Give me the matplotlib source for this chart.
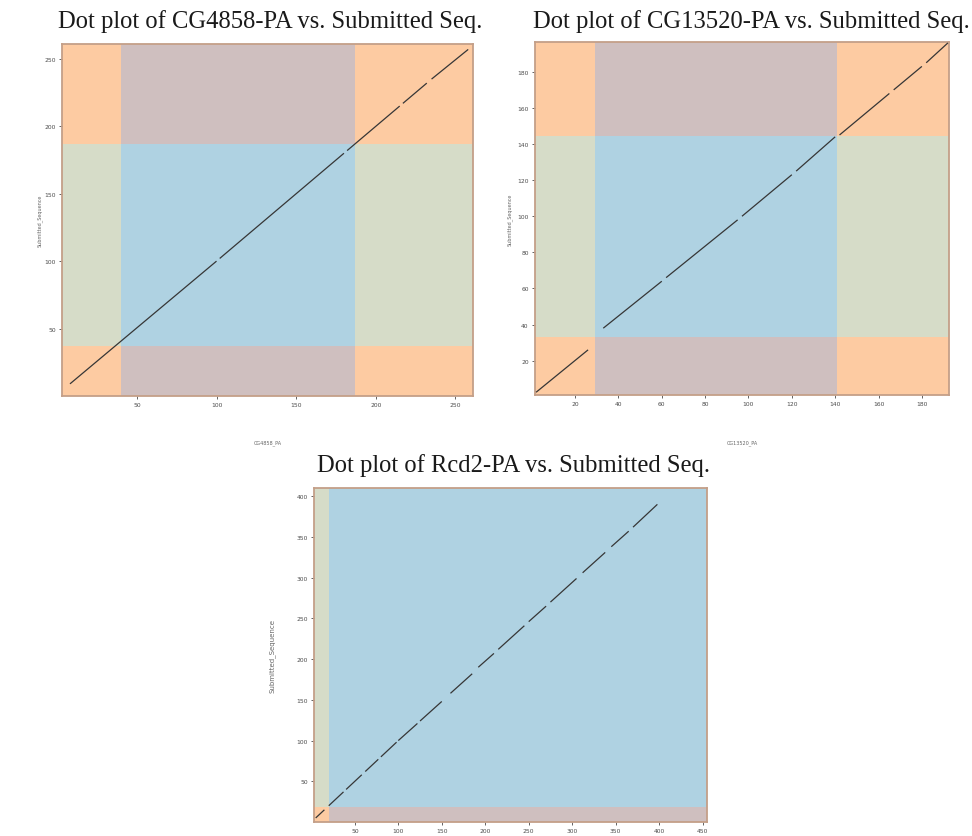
import matplotlib.pyplot as plt

# panel titles
titles = ['Dot plot of CG4858-PA vs. Submitted Seq.',
          'Dot plot of CG13520-PA vs. Submitted Seq.',
          'Dot plot of Rcd2-PA vs. Submitted Seq.']
x_labels = ['CG4858_PA', 'CG13520_PA', '']
y_label = 'Submitted_Sequence'

# axis limits (query length on x, submitted length on y)
x_limits = [(3, 261), (1.5, 192.5), (3, 455)]
y_limits = [(0, 261), (1, 196.5), (0, 410)]
x_ticks = [[50, 100, 150, 200, 250],
           [20, 40, 60, 80, 100, 120, 140, 160, 180],
           [50, 100, 150, 200, 250, 300, 350, 400, 450]]
y_ticks = [[50, 100, 150, 200, 250],
           [20, 40, 60, 80, 100, 120, 140, 160, 180],
           [50, 100, 150, 200, 250, 300, 350, 400]]

# coding region boundaries (start, end) on each axis
x_region = [(40, 187), (29, 141), (20, 455)]
y_region = [(37, 187), (33, 144.5), (19, 410)]

# alignment segments: x start, x end, y start, y end
seg_x0 = [[8, 102, 182, 217, 235],
          [2, 33, 62, 97, 122, 142, 167, 182],
          [5, 20, 40, 62, 80, 100, 125, 160, 192, 215, 250, 275, 312, 345, 370]]
seg_x1 = [[100, 180, 215, 232, 258],
          [26, 60, 95, 120, 140, 165, 180, 192],
          [15, 37, 58, 77, 98, 122, 150, 185, 210, 245, 270, 305, 338, 365, 398]]
seg_y0 = [[9, 102, 182, 217, 235],
          [2.5, 38, 66, 100, 125, 145, 170, 185],
          [5, 20, 40, 62, 80, 100, 124, 158, 190, 212, 246, 270, 306, 338, 362]]
seg_y1 = [[100, 180, 215, 232, 257],
          [26, 64, 98, 123, 144, 168, 183, 196],
          [15, 37, 58, 77, 98, 121, 148, 182, 207, 241, 265, 299, 331, 357, 390]]

# colours of the four region combinations
c_both = '#afd2e2'      # coding on both axes
c_x_only = '#cfbfbf'    # coding on query only
c_y_only = '#d6dcc8'    # coding on submitted only
c_none = '#fdcba2'      # neither
edge_col = '#c49f88'

positions = [[0.0638, 0.5257, 0.4228, 0.4205],
             [0.5504, 0.5269, 0.4259, 0.4217],
             [0.3230, 0.0167, 0.4043, 0.3990]]
title_xy = [(0.278, 0.974), (0.773, 0.974), (0.528, 0.444)]
ylabel_x = [0.041, 0.524, 0.280]

fig = plt.figure(figsize=(9.72, 8.37), dpi=100)

for i in range(3):
    ax = fig.add_axes(positions[i])
    xl, xr = x_limits[i]
    yb, yt = y_limits[i]
    rx0, rx1 = x_region[i]
    ry0, ry1 = y_region[i]
    xs = [xl, rx0, rx1, xr]
    ys = [yb, ry0, ry1, yt]
    for a in range(3):
        for b in range(3):
            in_x = a == 1
            in_y = b == 1
            if in_x and in_y:
                col = c_both
            elif in_x:
                col = c_x_only
            elif in_y:
                col = c_y_only
            else:
                col = c_none
            if xs[a + 1] > xs[a] and ys[b + 1] > ys[b]:
                ax.fill_between([xs[a], xs[a + 1]], ys[b], ys[b + 1],
                                color=col, lw=0, zorder=1)

    for x0, x1, y0, y1 in zip(seg_x0[i], seg_x1[i], seg_y0[i], seg_y1[i]):
        ax.plot([x0, x1], [y0, y1], color='#363636', lw=0.9, zorder=3,
                solid_capstyle='butt')

    ax.set_xlim(xl, xr)
    ax.set_ylim(yb, yt)
    ax.set_xticks(x_ticks[i])
    ax.set_yticks(y_ticks[i])
    ax.tick_params(labelsize=4.3, length=2.5, width=0.6, colors='#4a4a4a', pad=2)
    for sp in ax.spines.values():
        sp.set_color(edge_col)
        sp.set_linewidth(1.3)

    fig.text(title_xy[i][0], title_xy[i][1], titles[i], ha='center', va='center',
             family='Liberation Serif', fontsize=17.7, color='#1a1a1a')
    fs = 5 if i == 2 else 3.5
    fig.text(ylabel_x[i], positions[i][1] + positions[i][3] / 2, y_label,
             rotation=90, ha='center', va='center', fontsize=fs, color='#666666')
    if x_labels[i]:
        fig.text(positions[i][0] + positions[i][2] / 2, 1 - 443 / 837, x_labels[i],
                 ha='center', va='center', fontsize=3.5, color='#666666')

fig.savefig('out.png', dpi=100)
